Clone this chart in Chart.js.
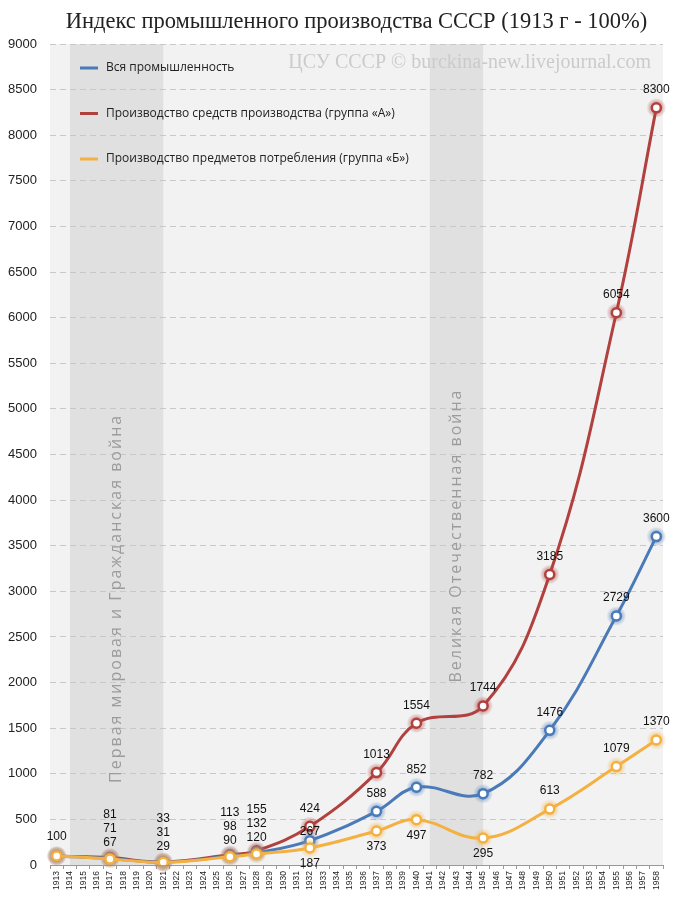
<!DOCTYPE html>
<html>
<head>
<meta charset="utf-8">
<script src="https://cdn.jsdelivr.net/npm/chart.js@4"></script>
<style>
  html, body { margin: 0; padding: 0; background: #fff; }
</style>
</head>
<body>
<canvas id="myChart" width="676" height="900"></canvas>
<script>
// Index of industrial production, USSR (1913 = 100)
const years = [
  '1913','1914','1915','1916','1917','1918','1919','1920','1921','1922',
  '1923','1924','1925','1926','1927','1928','1929','1930','1931','1932',
  '1933','1934','1935','1936','1937','1938','1939','1940','1941','1942',
  '1943','1944','1945','1946','1947','1948','1949','1950','1951','1952',
  '1953','1954','1955','1956','1957','1958'
];
const dataYears = ['1913','1917','1921','1926','1928','1932','1937','1940','1945','1950','1955','1958'];
const allIndustry = [100, 71, 31, 98, 132, 267, 588, 852, 782, 1476, 2729, 3600];
const groupA = [100, 81, 33, 113, 155, 424, 1013, 1554, 1744, 3185, 6054, 8300];
const groupB = [100, 67, 29, 90, 120, 187, 373, 497, 295, 613, 1079, 1370];

const seriesNames = [
  'Вся промышленность',
  'Производство средств производства (группа «А»)',
  'Производство предметов потребления (группа «Б»)'
];
const wars = [
  { from: '1914', to: '1921', text: 'Первая мировая и Гражданская война', startAt: 900 },
  { from: '1941', to: '1945', text: 'Великая Отечественная война', startAt: 2000 }
];
const yTicksMax = 9000;
const yTicksStep = 500;

const BLUE = '#4a7ab8', RED = '#b0413e', YELLOW = '#f4b041';
const SANS = '"Liberation Sans", Arial, sans-serif';

const toPoints = (vals) => dataYears.map((y, i) => ({ x: y, y: vals[i] }));

// plot background + war bands
const backdrop = {
  id: 'backdrop',
  beforeDraw(chart) {
    const { ctx, chartArea: a, scales: { x } } = chart;
    ctx.save();
    ctx.fillStyle = '#f2f2f2';
    ctx.fillRect(a.left, a.top, a.right - a.left, a.bottom - a.top);
    ctx.fillStyle = '#e0e0e0';
    wars.forEach(w => {
      const x1 = x.getPixelForValue(years.indexOf(w.from));
      const x2 = x.getPixelForValue(years.indexOf(w.to));
      ctx.fillRect(x1, a.top, x2 - x1, a.bottom - a.top);
    });
    ctx.restore();
  },
  beforeDatasetsDraw(chart) {
    const { ctx, chartArea: a, scales: { x, y } } = chart;
    ctx.save();
    // war captions
    ctx.fillStyle = '#9c9c9c';
    ctx.font = '16px "Open Sans", sans-serif';
    ctx.letterSpacing = '2px';
    ctx.textBaseline = 'middle';
    ctx.textAlign = 'left';
    wars.forEach(w => {
      const x1 = x.getPixelForValue(years.indexOf(w.from));
      const x2 = x.getPixelForValue(years.indexOf(w.to));
      ctx.save();
      ctx.translate((x1 + x2) / 2, y.getPixelForValue(w.startAt));
      ctx.rotate(-Math.PI / 2);
      ctx.fillText(w.text, 0, 0);
      ctx.restore();
    });
    ctx.letterSpacing = '0px';
    // watermark
    ctx.fillStyle = '#cbcbcb';
    ctx.font = '20px "Liberation Serif", serif';
    ctx.textAlign = 'right';
    ctx.fillText('ЦСУ СССР © burckina-new.livejournal.com', a.right - 12, a.top + 19);
    // legend
    const cols = [BLUE, RED, YELLOW];
    ctx.textAlign = 'left';
    ctx.font = '12px "Open Sans", sans-serif';
    seriesNames.forEach((n, i) => {
      const ly = a.top + 24 + i * 45.5;
      ctx.strokeStyle = cols[i];
      ctx.lineWidth = 3;
      ctx.beginPath();
      ctx.moveTo(a.left + 30, ly);
      ctx.lineTo(a.left + 48, ly);
      ctx.stroke();
      ctx.fillStyle = '#222';
      ctx.fillText(n, a.left + 56, ly);
    });
    ctx.restore();
  }
};

// soft halo around markers
const glow = {
  id: 'glow',
  beforeDatasetDraw(chart, args) {
    const { ctx } = chart;
    const col = chart.data.datasets[args.index].borderColor;
    ctx.save();
    args.meta.data.forEach(p => {
      const g = ctx.createRadialGradient(p.x, p.y, 3, p.x, p.y, 10);
      g.addColorStop(0, col + 'aa');
      g.addColorStop(1, col + '00');
      ctx.fillStyle = g;
      ctx.beginPath();
      ctx.arc(p.x, p.y, 10, 0, Math.PI * 2);
      ctx.fill();
    });
    ctx.restore();
  }
};

// value labels
const valueLabels = {
  id: 'valueLabels',
  afterDatasetsDraw(chart) {
    const { ctx } = chart;
    ctx.save();
    ctx.font = '12px ' + SANS;
    ctx.fillStyle = '#111';
    ctx.textAlign = 'center';
    ctx.textBaseline = 'middle';
    const metas = [0, 1, 2].map(i => chart.getDatasetMeta(i));
    // rank in stacked early labels: B bottom, all middle, A top
    const rank = [1, 2, 0];
    dataYears.forEach((yr, i) => {
      metas.forEach((m, d) => {
        const p = m.data[i];
        const v = chart.data.datasets[d].data[i].y;
        let ty;
        if (i === 0) {
          if (d !== 0) return;
          ty = p.y - 19;
        } else if (i <= 4) {
          ty = metas[2].data[i].y - 16 - rank[d] * 14;
        } else if (d === 2 && i <= 8) {
          ty = p.y + 16;
        } else if (d === 0 && i === 5) {
          ty = p.y - 9;
        } else {
          ty = p.y - 18;
        }
        ctx.fillText(String(v), p.x, ty);
      });
    });
    ctx.restore();
  }
};

const mkSet = (label, vals, color, order) => ({
  label,
  data: toPoints(vals),
  borderColor: color,
  backgroundColor: color,
  borderWidth: 3,
  tension: 0.4,
  pointRadius: 4.5,
  pointBorderWidth: 2.5,
  pointBackgroundColor: '#fff',
  pointBorderColor: color,
  order
});

new Chart(document.getElementById('myChart'), {
  type: 'line',
  data: {
    labels: years,
    datasets: [
      mkSet(seriesNames[0], allIndustry, BLUE, 2),
      mkSet(seriesNames[1], groupA, RED, 3),
      mkSet(seriesNames[2], groupB, YELLOW, 1)
    ]
  },
  options: {
    responsive: false,
    animation: false,
    events: [],
    layout: { padding: { right: 13 } },
    scales: {
      x: {
        type: 'category',
        offset: true,
        afterFit: s => { s.height = 35; },
        border: { display: true, color: '#999', width: 1 },
        grid: { drawOnChartArea: false, offset: true, tickLength: 4, color: '#999' },
        ticks: {
          autoSkip: false, minRotation: 90, maxRotation: 90, padding: 2,
          color: '#222', font: { size: 8.5, family: SANS }
        }
      },
      y: {
        min: 0,
        max: yTicksMax,
        afterFit: s => { s.width = 50; },
        border: { display: false, dash: [6, 4] },
        grid: { color: '#c8c8c8', drawTicks: false },
        ticks: {
          stepSize: yTicksStep, padding: 13,
          callback: v => String(v),
          color: '#222', font: { size: 13, family: SANS }
        }
      }
    },
    plugins: {
      legend: { display: false },
      tooltip: { enabled: false },
      title: {
        display: true,
        fullSize: false,
        text: 'Индекс промышленного производства СССР (1913 г - 100%)',
        color: '#222',
        font: { family: '"Liberation Serif", serif', size: 22.5, weight: 'normal' },
        padding: { top: 9, bottom: 8 }
      }
    }
  },
  plugins: [backdrop, glow, valueLabels]
});
</script>
</body>
</html>
